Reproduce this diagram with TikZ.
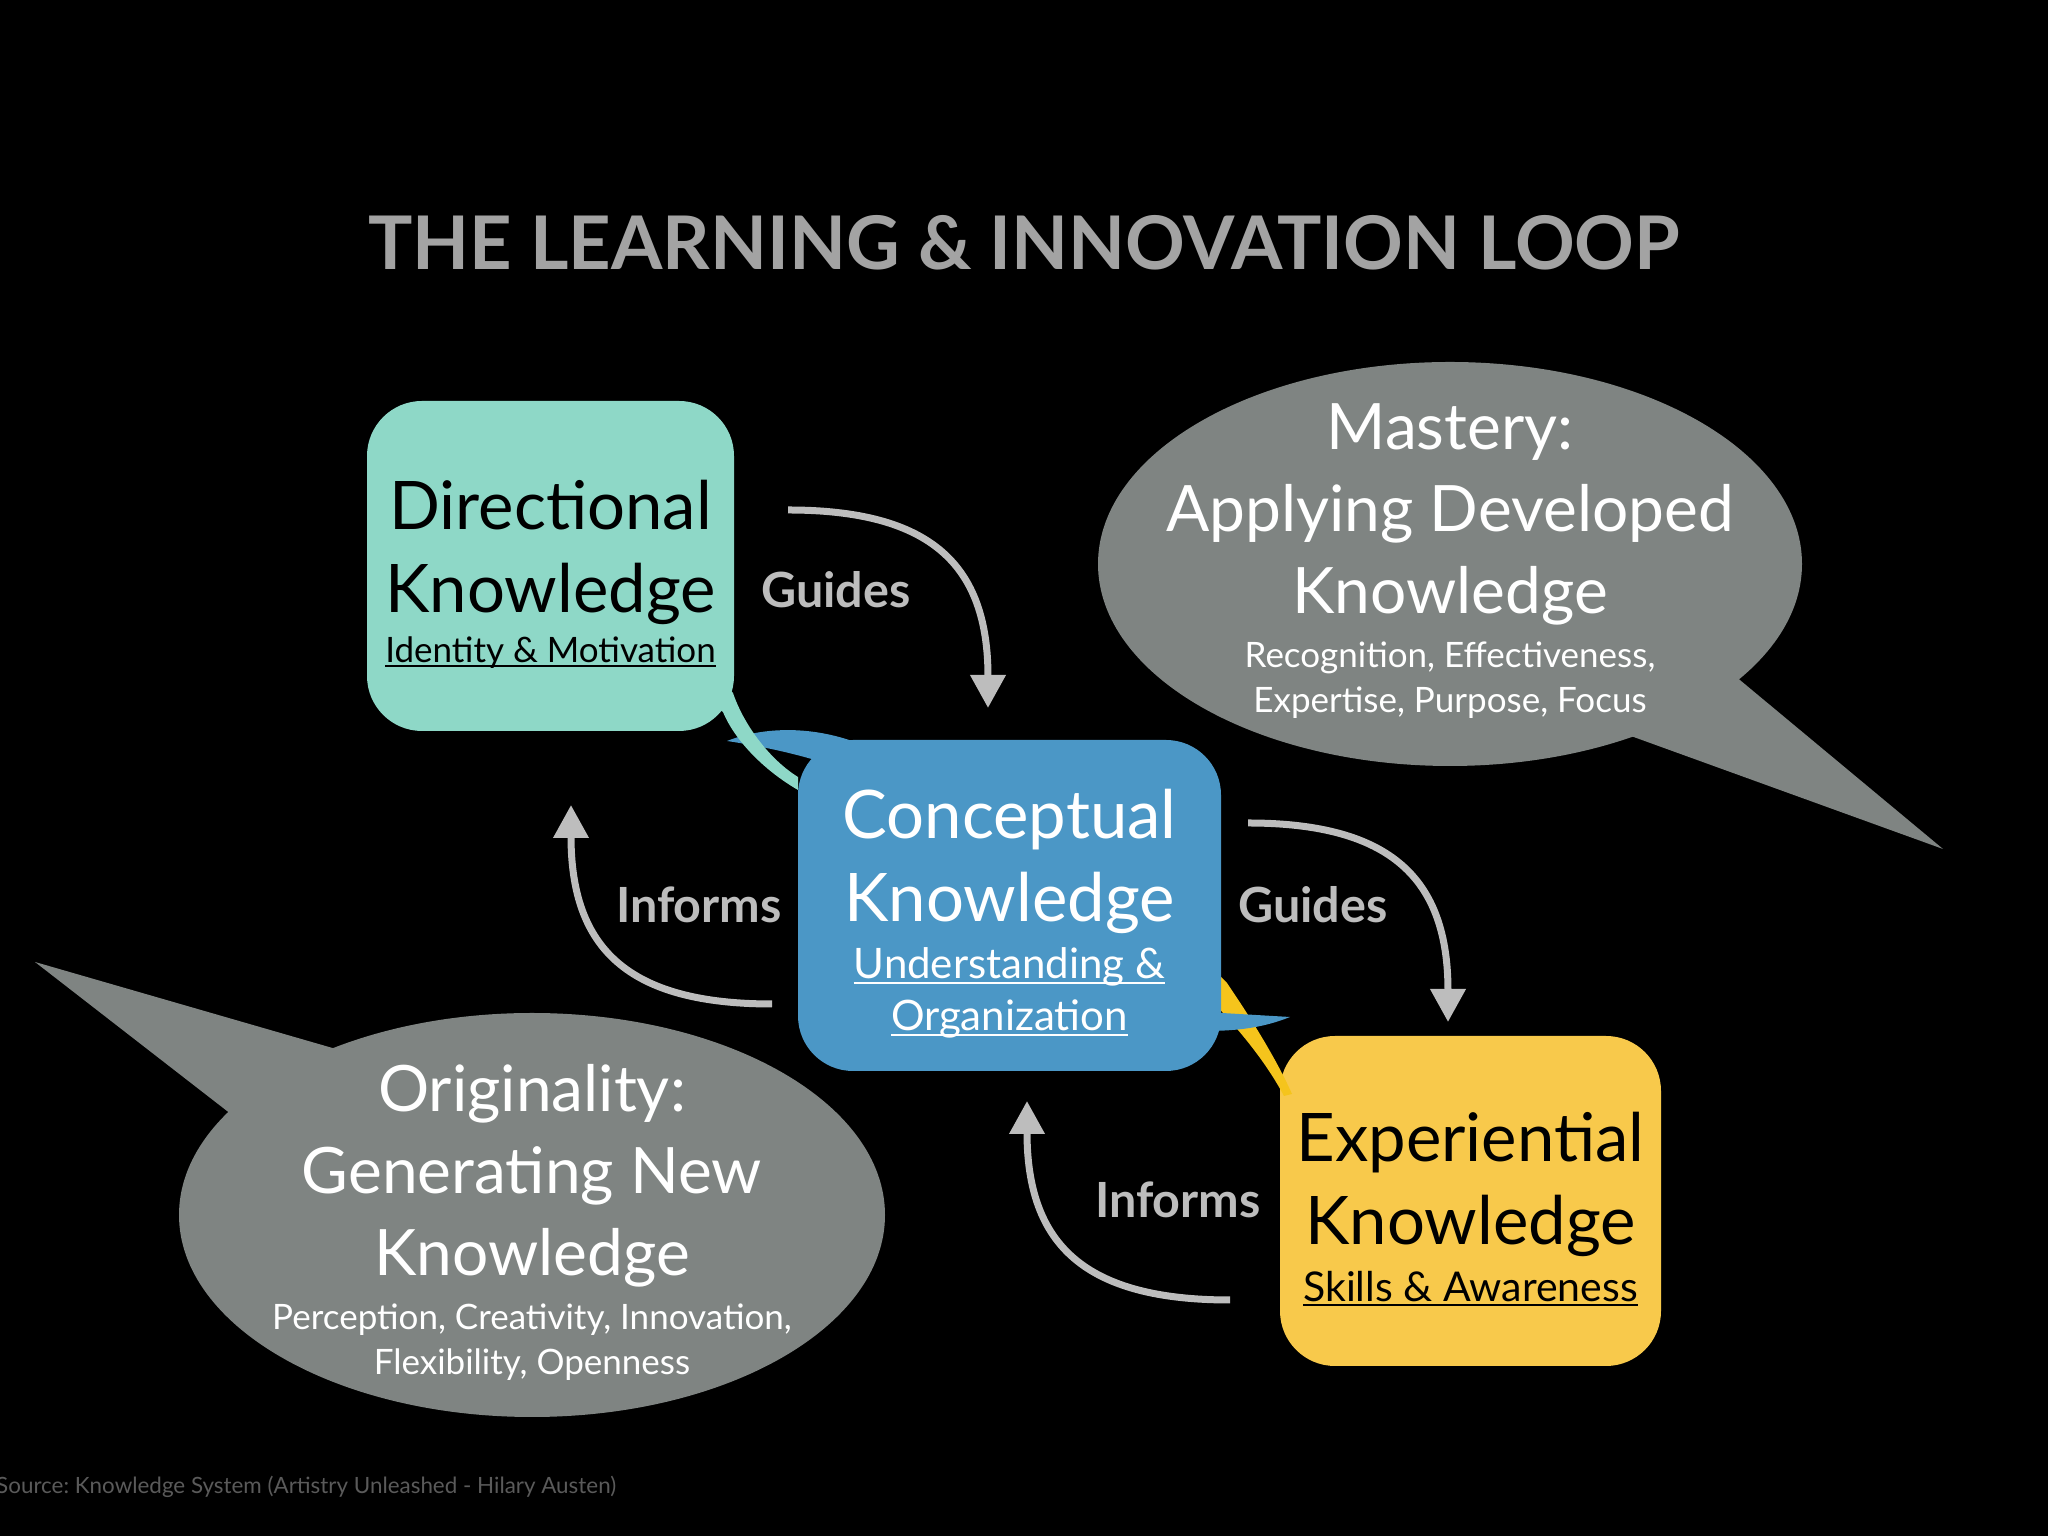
\documentclass[tikz,border=0pt]{standalone}
\usepackage{fontspec}
\setmainfont{Lato}
\usepackage{xcolor}
\usepackage{tikz}
\usetikzlibrary{arrows.meta}

\frenchspacing
\newcommand{\uln}[1]{\setbox0\hbox{#1}\rlap{\rule[-5pt]{\wd0}{2pt}}\box0}
\newcommand{\boxsub}[1]{\fontsize{#1}{44}\selectfont}
\newcommand{\bubblesub}{\fontsize{35}{44}\selectfont}
\newcommand{\headgap}{\rule{0pt}{66pt}}

\definecolor{dirteal}{HTML}{8ED8C7}
\definecolor{concblue}{HTML}{4B97C6}
\definecolor{expyellow}{HTML}{F8C94B}
\definecolor{tailyellow}{HTML}{F5C41C}
\definecolor{bubblegray}{HTML}{7F8482}
\definecolor{arrowgray}{HTML}{BDBDBD}
\definecolor{titlegray}{HTML}{A3A3A3}
\definecolor{sourcegray}{HTML}{5A5A5A}

\begin{document}
\begin{tikzpicture}[x=1pt,y=1pt]
	\tikzstyle{every node}+=[inner sep=0pt]
	\tikzstyle{knowbox}=[rounded corners=55pt, align=center, font=\fontsize{67}{83}\selectfont]
	\tikzstyle{bubbletext}=[align=center, text=white, font=\fontsize{64}{82}\selectfont]
	\tikzstyle{loopline}=[draw=arrowgray, line width=7pt, looseness=1.3, -{Triangle[length=33pt,width=34pt]}]
	\tikzstyle{verb}=[anchor=base, text=arrowgray, font=\bfseries\fontsize{48.5}{48}\selectfont]
	\fill [black] (0,0) rectangle (2048,1536);
	\useasboundingbox (0,0) rectangle (2048,1536);

	\node [anchor=base, text=titlegray, font=\bfseries\fontsize{74}{74}\selectfont] (title) at (1024,1266) {THE LEARNING \& INNOVATION LOOP};

	% speech bubbles
	\coordinate (mc) at (1450,972);
	\coordinate (mtip) at (1943,687);
	\fill [bubblegray] (mtip) -- (1606,809) -- (1699,890) -- cycle;
	\fill [bubblegray] (mc) ellipse [x radius=352, y radius=202];
	\node [bubbletext, yshift=3pt] (mastery) at (mc) {Mastery:\\Applying Developed\\Knowledge\\[-28pt]{\bubblesub Recognition, Effectiveness,}\\[-37pt]{\bubblesub Expertise, Purpose, Focus}};

	\coordinate (oc) at (532,321);
	\coordinate (otip) at (35,574);
	\fill [bubblegray] (otip) -- (374,476) -- (267,394) -- cycle;
	\fill [bubblegray] (oc) ellipse [x radius=353, y radius=202];
	\node [bubbletext, yshift=-7pt] (originality) at (oc) {Originality:\\Generating New\\Knowledge\\[-28pt]{\bubblesub Perception, Creativity, Innovation,}\\[-37pt]{\bubblesub Flexibility, Openness}};

	% knowledge boxes
	\node [knowbox, fill=dirteal, minimum width=367pt, minimum height=330pt] (directional) at (550.5,970) {\headgap Directional\\Knowledge\\[-33pt]{\boxsub{35}\uln{Identity \& Motivation}}};
	\node [knowbox, fill=expyellow, minimum width=381pt, minimum height=330pt] (experiential) at (1470.5,335) {\headgap Experiential\\Knowledge\\[-26pt]{\boxsub{41}\uln{Skills \& Awareness}}};
	\fill [tailyellow] (1212,568) -- (1227,553) .. controls (1248,522) and (1275,480) .. (1292,442) -- (1284,440) .. controls (1268,470) and (1245,500) .. (1212,535) -- cycle;
	\node [knowbox, fill=concblue, text=white, minimum width=423pt, minimum height=331pt] (conceptual) at (1009.5,630.5) {\headgap Conceptual\\Knowledge\\[-26pt]{\boxsub{42}\uln{Understanding \&}}\\[-31pt]{\boxsub{42}\uln{Organization}}};
	\fill [concblue] (727,795) .. controls (765,810) and (815,810) .. (860,792) -- (840,768) .. controls (800,782) and (760,790) .. (727,795) -- cycle;
	\fill [concblue] (1205,524) -- (1290,519) .. controls (1265,509) and (1240,505) .. (1205,505) -- cycle;
	\fill [dirteal] (712,832) -- (723,824) .. controls (735,795) and (765,765) .. (798,746) -- (798,759) .. controls (772,775) and (745,808) .. (733,843) -- (725,852) -- cycle;

	% loop arrows
	\coordinate (g1s) at (788,1026);
	\coordinate (g1e) at (988,828);
	\coordinate (g2s) at (1248,713);
	\coordinate (g2e) at (1448,514);
	\coordinate (i1s) at (772,532);
	\coordinate (i1e) at (571,731);
	\coordinate (i2s) at (1230,236);
	\coordinate (i2e) at (1027,435);
	\draw [loopline] (g1s) to [out=0, in=90] (g1e);
	\draw [loopline] (g2s) to [out=0, in=90] (g2e);
	\draw [loopline] (i1s) to [out=180, in=-90] (i1e);
	\draw [loopline] (i2s) to [out=180, in=-90] (i2e);
	\node [verb] (guides1) at (836,928) {Guides};
	\node [verb] (guides2) at (1313,613) {Guides};
	\node [verb] (informs1) at (699,613) {Informs};
	\node [verb] (informs2) at (1178,318) {Informs};

	\node [anchor=base west, text=sourcegray, font=\fontsize{22.4}{23}\selectfont] (source) at (-4,42) {Source: Knowledge System (Artistry Unleashed - Hilary Austen)};
\end{tikzpicture}
\end{document}
